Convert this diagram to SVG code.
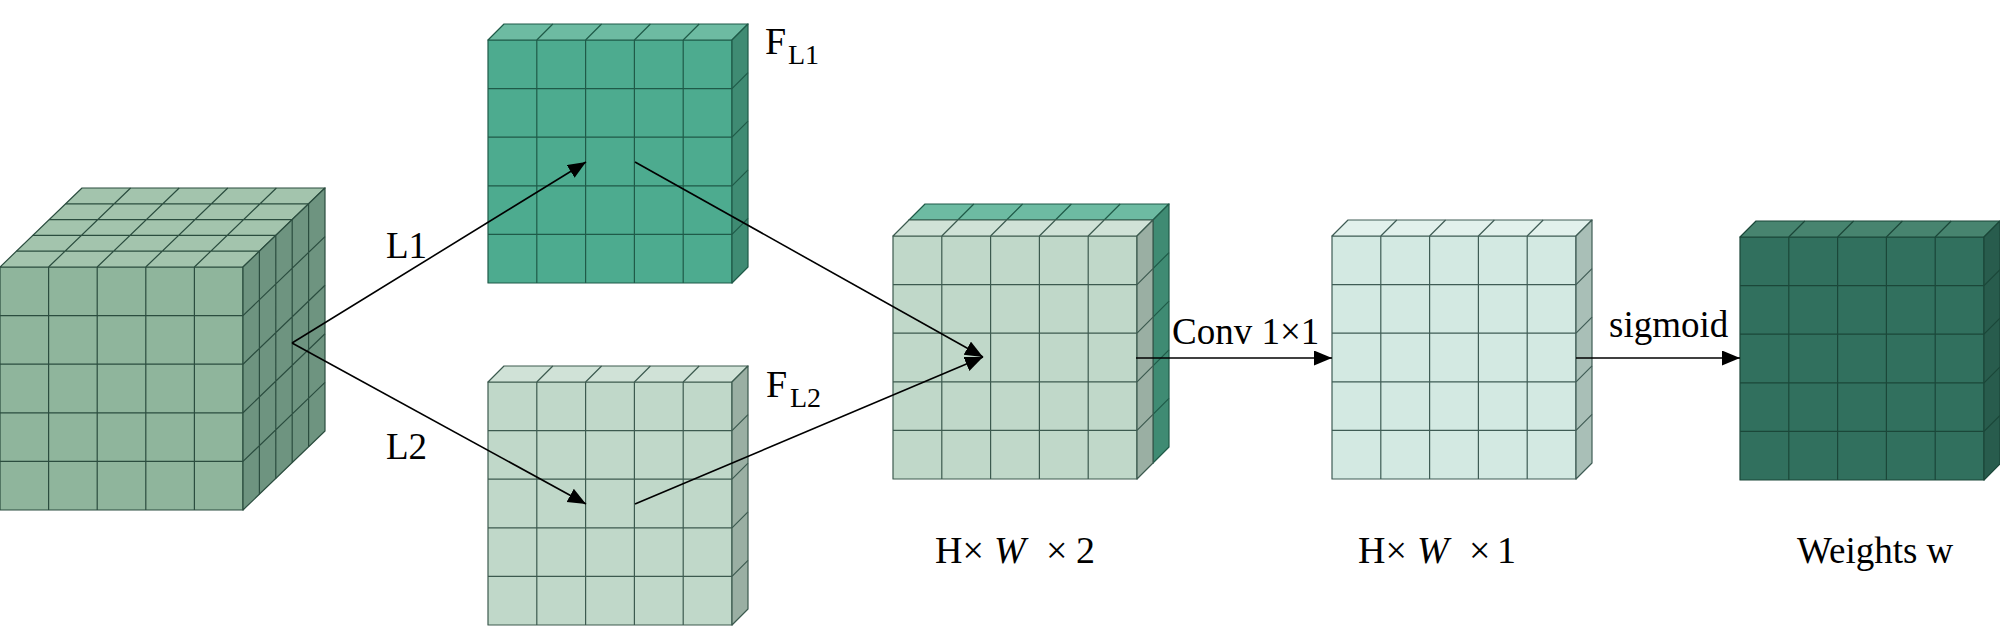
<svg xmlns="http://www.w3.org/2000/svg" xmlns:xlink="http://www.w3.org/1999/xlink" width="2000" height="626" viewBox="0 0 2000 626">
<style>
  .t{font-family:"Liberation Serif","Times New Roman",serif;fill:#000}
  .face{stroke-width:1.2;stroke-linejoin:round}
  .gl{fill:none;stroke-width:1.2}
  .conn{fill:none;stroke:#000;stroke-width:1.6}
  .g1f{fill:#4dab8f}.g1t{fill:#6dbba2}.g1s{fill:#3f8b73}.g1{stroke:#1f5a48}
  .g2f{fill:#c0d8c9}.g2t{fill:#d0e2d7}.g2s{fill:#9aafa3}.g2{stroke:#3c5a4f}
  .g3f{fill:#d3e9e2}.g3t{fill:#e2f1ec}.g3s{fill:#a9bfb7}.g3{stroke:#3f5c55}
  .g4f{fill:#31705e}.g4t{fill:#47846f}.g4s{fill:#285c4d}.g4{stroke:#1b4739}
  .c0f{fill:#8fb59c}.c0t{fill:#a3c4ad}.c0s{fill:#6e9480}.c0{stroke:#2b4d3f}
</style>
<defs>
  <path id="sf" d="M0,0H244V243H0Z"/>
  <path id="st" d="M0,0L16,-16H260L244,0Z"/>
  <path id="ss" d="M244,0L260,-16V227L244,243Z"/>
  <path id="sl" d="M48.8,0V243M97.6,0V243M146.4,0V243M195.2,0V243M0,48.6H244M0,97.2H244M0,145.8H244M0,194.4H244M48.8,0L64.8,-16M97.6,0L113.6,-16M146.4,0L162.4,-16M195.2,0L211.2,-16M244,48.6L260,32.6M244,97.2L260,81.2M244,145.8L260,129.8M244,194.4L260,178.4"/>
  <marker id="ah" markerUnits="userSpaceOnUse" markerWidth="20" markerHeight="16" refX="18" refY="7.5" orient="auto">
    <path d="M0,0L18,7.5L0,15Z" fill="#000"/>
  </marker>
</defs>

<g id="input-cube">
  <polygon class="face c0f c0" points="0,267 243,267 243,510 0,510"/>
  <polygon class="face c0t c0" points="0,267 243,267 325,188 82,188"/>
  <polygon class="face c0s c0" points="243,267 325,188 325,431 243,510"/>
  <path class="gl c0" d="M48.6,267V510M97.2,267V510M145.8,267V510M194.4,267V510M0,315.6H243M0,364.2H243M0,412.8H243M0,461.4H243
  M48.6,267L130.6,188M97.2,267L179.2,188M145.8,267L227.8,188M194.4,267L276.4,188
  M16.4,251.2H259.4M32.8,235.4H275.8M49.2,219.6H292.2M65.6,203.8H308.6
  M259.4,251.2V494.2M275.8,235.4V478.4M292.2,219.6V462.6M308.6,203.8V446.8
  M243,315.6L325,236.6M243,364.2L325,285.2M243,412.8L325,333.8M243,461.4L325,382.4"/>
</g>

<g id="FL1" transform="translate(488,40)">
  <use href="#sf" class="face g1f g1"/>
  <use href="#st" class="face g1t g1"/>
  <use href="#ss" class="face g1s g1"/>
  <use href="#sl" class="gl g1"/>
</g>
<g id="FL1-label">
  <text class="t" x="765" y="54" font-size="38">F<tspan x="788" y="64" font-size="28">L1</tspan></text>
</g>

<g id="FL2" transform="translate(488,382)">
  <use href="#sf" class="face g2f g2"/>
  <use href="#st" class="face g2t g2"/>
  <use href="#ss" class="face g2s g2"/>
  <use href="#sl" class="gl g2"/>
</g>
<g id="FL2-label">
  <text class="t" x="766" y="397" font-size="38">F<tspan x="790" y="407" font-size="28">L2</tspan></text>
</g>

<g id="concat">
  <g transform="translate(909,220)">
    <use href="#sf" class="face g1f g1"/>
    <use href="#st" class="face g1t g1"/>
    <use href="#ss" class="face g1s g1"/>
    <use href="#sl" class="gl g1"/>
  </g>
  <g transform="translate(893,236)">
    <use href="#sf" class="face g2f g2"/>
    <use href="#st" class="face g2t g2"/>
    <use href="#ss" class="face g2s g2"/>
    <use href="#sl" class="gl g2"/>
  </g>
  <text class="t" y="563" font-size="38"><tspan x="935">H×</tspan><tspan x="994" font-style="italic">W</tspan><tspan x="1046">×</tspan><tspan x="1076">2</tspan></text>
</g>

<g id="conv">
  <g transform="translate(1332,236)">
    <use href="#sf" class="face g3f g3"/>
    <use href="#st" class="face g3t g3"/>
    <use href="#ss" class="face g3s g3"/>
    <use href="#sl" class="gl g3"/>
  </g>
  <text class="t" y="563" font-size="38"><tspan x="1358">H×</tspan><tspan x="1417" font-style="italic">W</tspan><tspan x="1469">×</tspan><tspan x="1497">1</tspan></text>
</g>

<g id="weights">
  <g transform="translate(1740,237)">
    <use href="#sf" class="face g4f g4"/>
    <use href="#st" class="face g4t g4"/>
    <use href="#ss" class="face g4s g4"/>
    <use href="#sl" class="gl g4"/>
  </g>
  <text class="t" x="1797" y="563" font-size="37">Weights w</text>
</g>

<g id="connectors">
  <line class="conn" x1="292" y1="343" x2="586" y2="162" marker-end="url(#ah)"/>
  <line class="conn" x1="292" y1="343" x2="586" y2="504" marker-end="url(#ah)"/>
  <line class="conn" x1="635" y1="162" x2="983" y2="357" marker-end="url(#ah)"/>
  <line class="conn" x1="635" y1="504" x2="983" y2="357" marker-end="url(#ah)"/>
  <line class="conn" x1="1136" y1="358" x2="1332" y2="358" marker-end="url(#ah)"/>
  <line class="conn" x1="1576" y1="358" x2="1740" y2="358" marker-end="url(#ah)"/>
  <text class="t" x="386" y="258" font-size="37">L1</text>
  <text class="t" x="386" y="459" font-size="37">L2</text>
  <text class="t" x="1172" y="344" font-size="37">Conv 1×1</text>
  <text class="t" x="1609" y="337" font-size="37">sigmoid</text>
</g>
</svg>
